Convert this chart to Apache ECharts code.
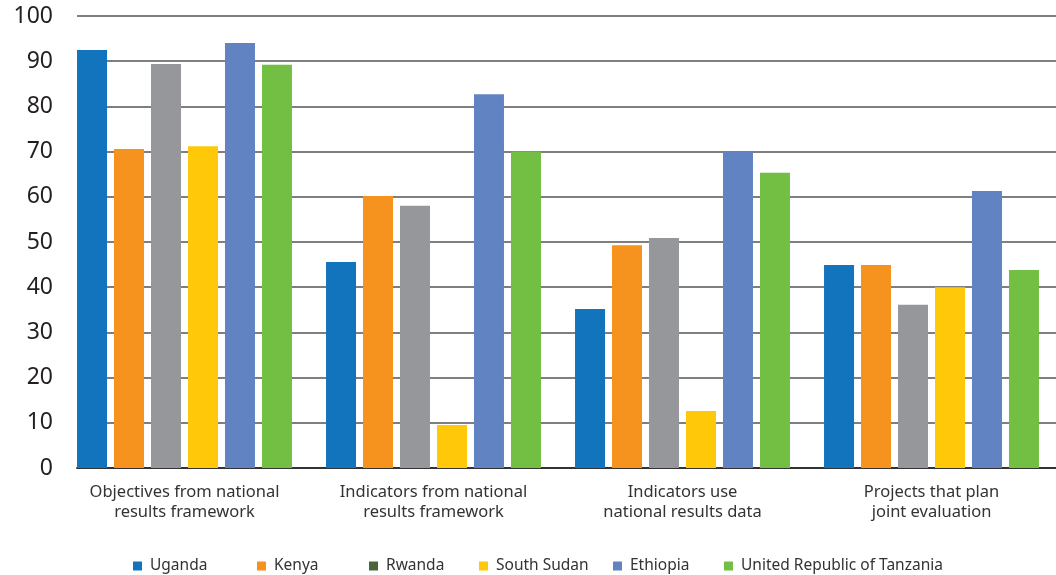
<!DOCTYPE html>
<html>
<head>
<meta charset="utf-8">
<script src="https://cdn.jsdelivr.net/npm/echarts@6/dist/echarts.min.js"></script>
<style>
  html, body { margin: 0; padding: 0; background: #ffffff; }
  #chart { width: 1056px; height: 575px; }
</style>
</head>
<body>
<div id="chart"></div>
<script>
// Category labels (two lines each)
const categories = [
  'Objectives from national\nresults framework',
  'Indicators from national\nresults framework',
  'Indicators use\nnational results data',
  'Projects that plan\njoint evaluation'
];

// Values per country, one per category
const uganda      = [92.5, 45.6, 35.2, 44.9];
const kenya       = [70.6, 60.2, 49.3, 44.9];
const rwanda      = [89.4, 58.0, 50.9, 36.1];
const southSudan  = [71.2,  9.5, 12.6, 40.0];
const ethiopia    = [94.0, 82.7, 70.0, 61.3];
const tanzania    = [89.2, 70.0, 65.3, 43.8];

const seriesNames = ['Uganda', 'Kenya', 'Rwanda', 'South Sudan', 'Ethiopia', 'United Republic of Tanzania'];
const seriesData  = [uganda, kenya, rwanda, southSudan, ethiopia, tanzania];
const barColors   = ['#1174bc', '#f6921e', '#96979b', '#ffc90a', '#6283c2', '#72bf44'];
const legendColors = ['#1174bc', '#f6921e', '#48663a', '#ffc90a', '#6283c2', '#72bf44'];
const legendLefts = [133, 257, 369, 479, 613, 724];

const yTicks = { min: 0, max: 100, interval: 10 };
const FONT = '"Noto Sans", sans-serif';

const chart = echarts.init(document.getElementById('chart'), null, { renderer: 'canvas' });

// One legend block per country so each sits at its own tab stop
const legends = seriesNames.map((name, i) => ({
  data: [{ name: name, itemStyle: { color: legendColors[i] } }],
  left: legendLefts[i],
  top: 558,
  orient: 'horizontal',
  icon: 'rect',
  itemWidth: 9,
  itemHeight: 9,
  itemGap: 0,
  textStyle: { fontFamily: FONT, fontSize: 15.5, color: '#333333', padding: [0, 0, 0, 3] },
  padding: 0,
  selectedMode: false
}));

chart.setOption({
  animation: false,
  backgroundColor: '#ffffff',
  legend: legends,
  grid: [
    { left: 77, right: 0, top: 16, bottom: 107 },
    { left: 60, right: 0, top: 16, bottom: 107 }
  ],
  xAxis: [
    {
      gridIndex: 0, type: 'value', min: 0, max: 1,
      axisLine: { show: true, lineStyle: { color: '#333333', width: 2 } },
      axisTick: { show: false }, axisLabel: { show: false }, splitLine: { show: false }
    },
    {
      gridIndex: 1, type: 'category', data: categories,
      axisLine: { show: false }, axisTick: { show: false },
      axisLabel: {
        margin: 14, fontFamily: FONT, fontSize: 16.5, color: '#333333',
        lineHeight: 20, interval: 0
      }
    }
  ],
  yAxis: [
    {
      gridIndex: 0, type: 'value', min: yTicks.min, max: yTicks.max, interval: yTicks.interval,
      axisLine: { show: false }, axisTick: { show: false },
      axisLabel: { margin: 24, fontFamily: FONT, fontSize: 23, color: '#231f20' },
      splitLine: { show: true, lineStyle: { color: '#555555', width: 1.5 } }
    },
    {
      gridIndex: 1, type: 'value', min: yTicks.min, max: yTicks.max, interval: yTicks.interval,
      show: false, splitLine: { show: false }
    }
  ],
  series: seriesNames.map((name, i) => ({
    name: name,
    type: 'bar',
    xAxisIndex: 1,
    yAxisIndex: 1,
    data: seriesData[i],
    barWidth: 30,
    barGap: '23.3%',
    itemStyle: { color: barColors[i] }
  }))
});
</script>
</body>
</html>
